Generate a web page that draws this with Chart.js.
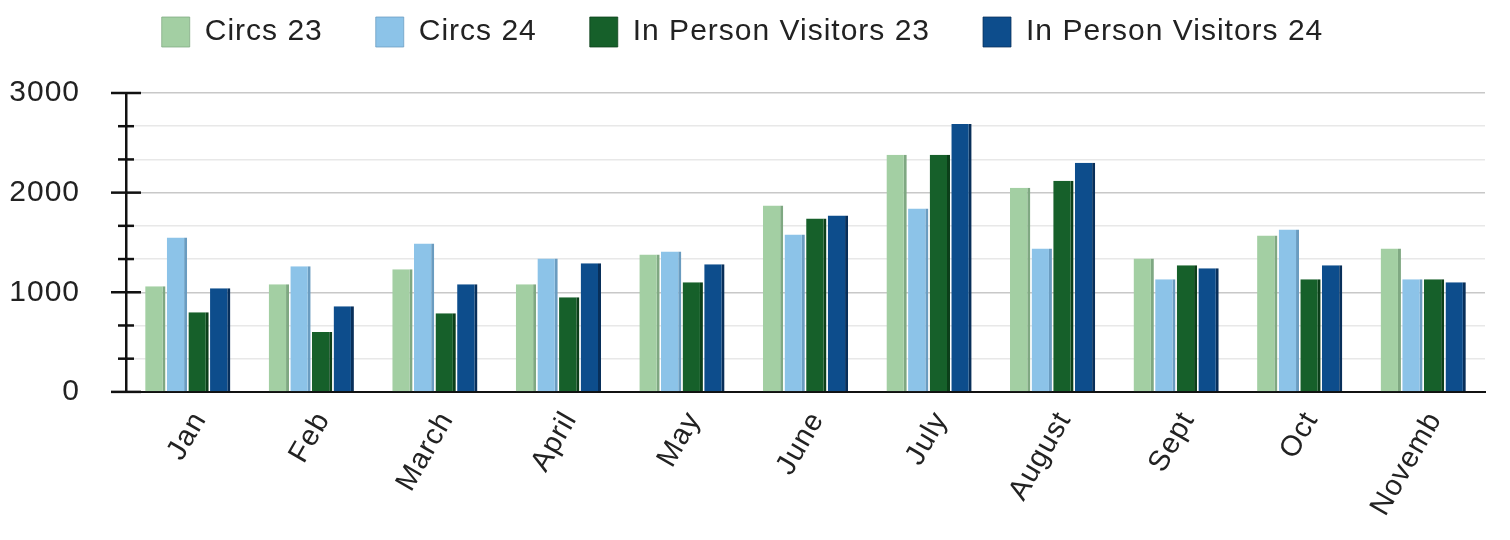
<!DOCTYPE html>
<html>
<head>
<meta charset="utf-8">
<script src="https://cdn.jsdelivr.net/npm/chart.js@4/dist/chart.umd.min.js"></script>
<style>
  html, body { margin: 0; padding: 0; background: #fff; }
  #wrap { width: 1510px; height: 540px; }
</style>
</head>
<body>
<div id="wrap"><canvas id="barChart"></canvas></div>
<script>
const months = ["Jan", "Feb", "March", "April", "May", "June", "July", "August", "Sept", "Oct", "Novemb"];
const circs23 = [1060, 1080, 1230, 1080, 1380, 1870, 2380, 2050, 1340, 1570, 1440];
const circs24 = [1550, 1260, 1490, 1340, 1410, 1580, 1840, 1440, 1130, 1630, 1130];
const visitors23 = [800, 600, 790, 950, 1100, 1740, 2380, 2120, 1270, 1130, 1130];
const visitors24 = [1040, 860, 1080, 1290, 1280, 1770, 2690, 2300, 1240, 1270, 1100];
const yLabels = [0, 1000, 2000, 3000];

// slightly spaced lettering like the original, plus extra room under the legend
const spacing = {
    id: "spacing",
    beforeLayout(chart) {
        chart.ctx.letterSpacing = "1px";
        const lg = chart.legend;
        if (lg && !lg._wrapped) {
            const fit = lg.fit.bind(lg);
            lg.fit = function () { fit(); this.height += 36; };
            lg._wrapped = true;
        }
    },
    beforeDraw(chart) { chart.ctx.letterSpacing = "1px"; }
};

// tick marks that cross the y axis line
const axisTicks = {
    id: "axisTicks",
    afterDraw(chart) {
        const y = chart.scales.y;
        const x0 = chart.chartArea.left;
        const c = chart.ctx;
        c.save();
        c.strokeStyle = "#111";
        c.lineWidth = 2.5;
        y.ticks.forEach(t => {
            const py = y.getPixelForValue(t.value);
            const major = Math.round(t.value) % 1000 === 0;
            const half = major ? 15 : 8;
            c.beginPath();
            c.moveTo(x0 - half, py);
            c.lineTo(x0 + half, py);
            c.stroke();
        });
        c.restore();
    }
};

const ctx = document.getElementById("barChart").getContext("2d");
const barChart = new Chart(ctx, {
    type: "bar",
    data: {
        labels: months,
        datasets: [
            { label: "Circs 23", data: circs23, backgroundColor: "#a3cfa3", borderColor: "#7fa882" },
            { label: "Circs 24", data: circs24, backgroundColor: "#8cc3e8", borderColor: "#6a9cc0" },
            { label: "In Person Visitors 23", data: visitors23, backgroundColor: "#16602a", borderColor: "#0c3f1a" },
            { label: "In Person Visitors 24", data: visitors24, backgroundColor: "#0d4d8c", borderColor: "#082f5a" }
        ].map(d => Object.assign(d, {
            borderWidth: { right: 3, top: 0, left: 0, bottom: 0 },
            borderSkipped: false,
            categoryPercentage: 0.7,
            barPercentage: 0.94
        }))
    },
    options: {
        responsive: true,
        maintainAspectRatio: false,
        animation: false,
        layout: { padding: { left: 0, right: 25, top: -36, bottom: 4 } },
        plugins: {
            legend: {
                position: "top",
                labels: {
                    boxWidth: 28,
                    boxHeight: 30,
                    padding: 53,
                    color: "#222",
                    font: { family: "Liberation Sans", size: 30 }
                }
            },
            tooltip: { enabled: false }
        },
        scales: {
            x: {
                grid: { display: false, drawTicks: false },
                border: { display: true, color: "#111", width: 2 },
                ticks: {
                    color: "#222",
                    font: { family: "Liberation Sans", size: 29 },
                    maxRotation: 60,
                    minRotation: 60,
                    labelOffset: 12,
                    padding: 14
                }
            },
            y: {
                min: 0,
                max: 3000,
                afterBuildTicks(scale) {
                    const t = [];
                    for (let i = 0; i <= 9; i++) t.push({ value: i * 1000 / 3 });
                    scale.ticks = t;
                },
                afterFit(scale) { scale.width = 126; },
                grid: {
                    drawTicks: false,
                    color: c => (Math.round(c.tick.value) % 1000 === 0 ? "#c8c8c8" : "#e8e8e8"),
                    lineWidth: 1.5
                },
                border: { display: true, color: "#111", width: 2.5 },
                ticks: {
                    autoSkip: false,
                    color: "#222",
                    padding: 46,
                    font: { family: "Liberation Sans", size: 30 },
                    callback: v => (yLabels.includes(Math.round(v)) ? String(Math.round(v)) : "")
                }
            }
        }
    },
    plugins: [spacing, axisTicks]
});
</script>
</body>
</html>
